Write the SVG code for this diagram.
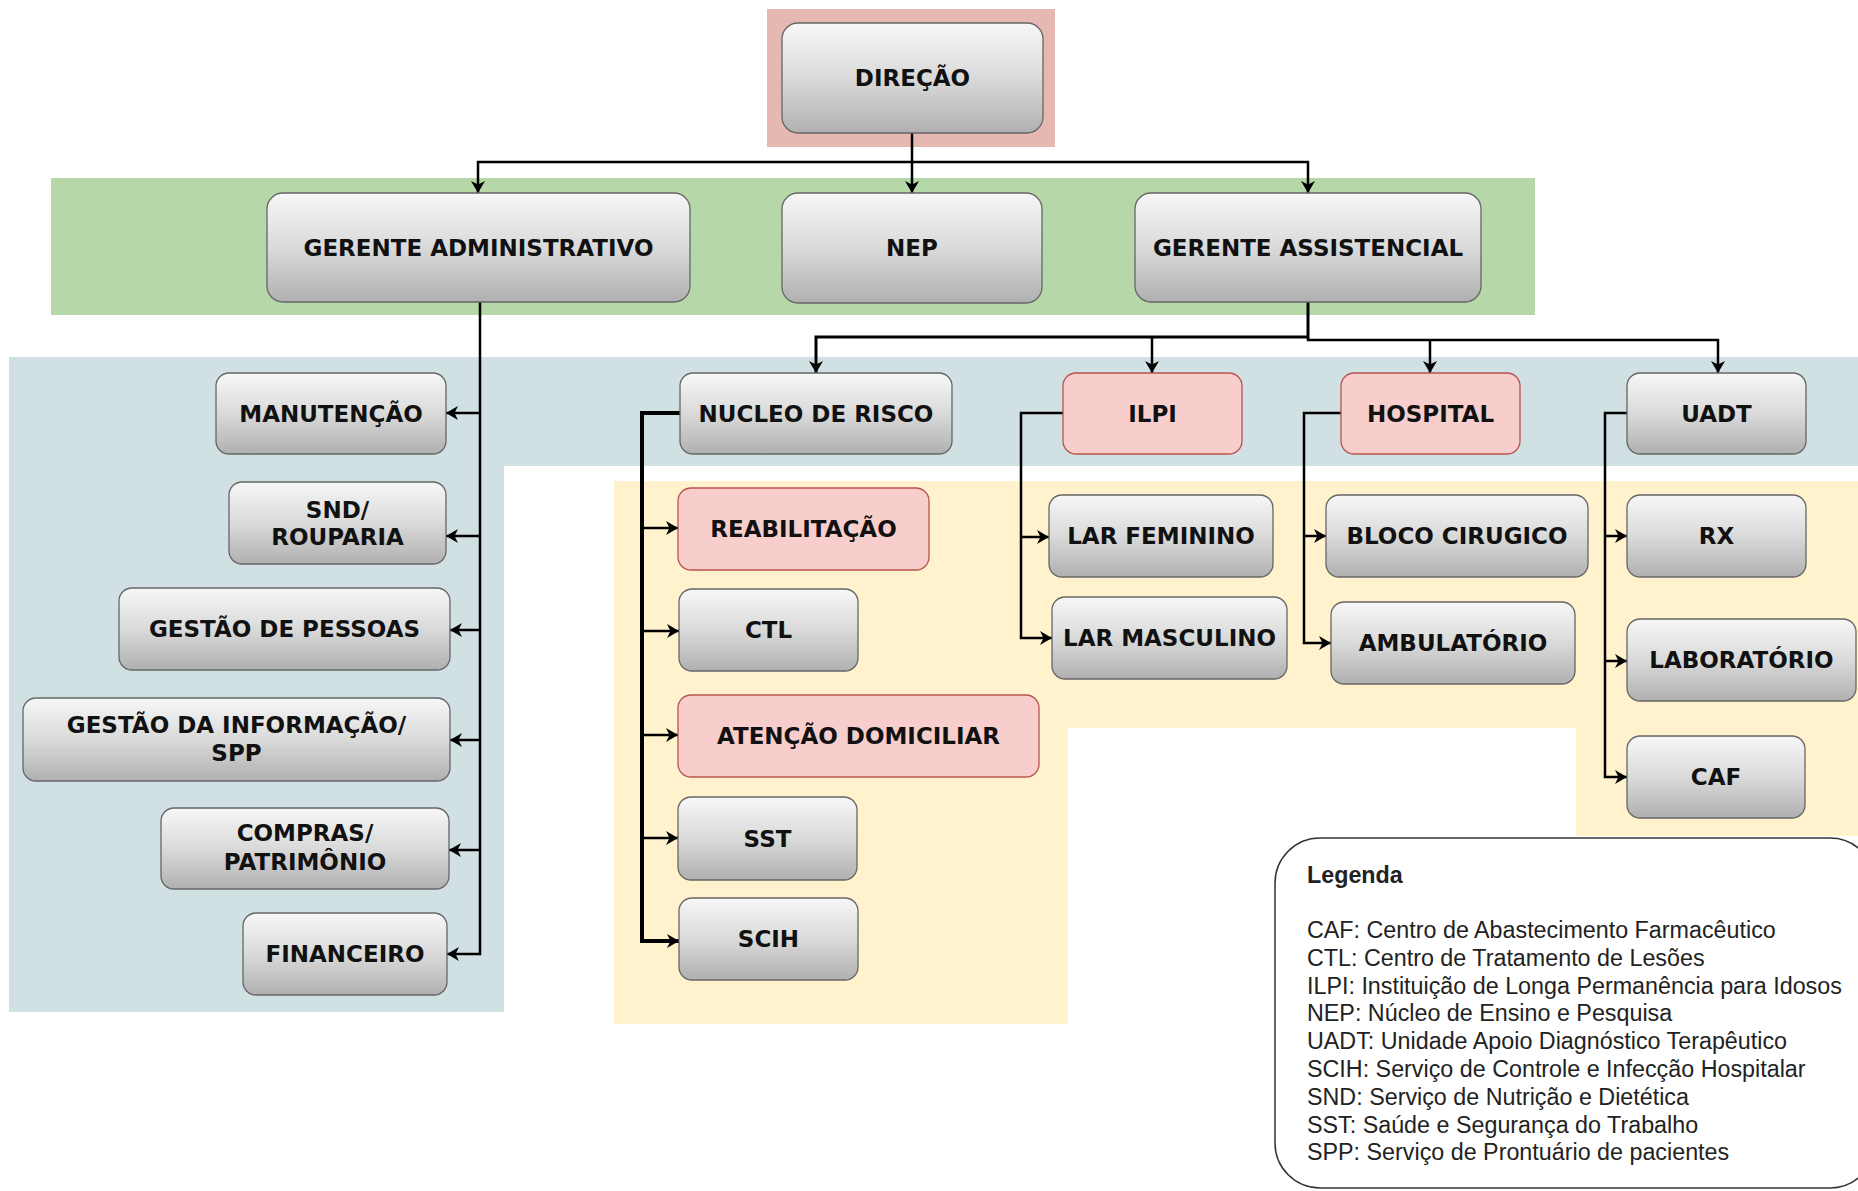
<svg xmlns="http://www.w3.org/2000/svg" width="1858" height="1191" viewBox="0 0 1858 1191">
<defs>
<linearGradient id="g" x1="0" y1="0" x2="0" y2="1">
<stop offset="0" stop-color="#f7f7f7"/>
<stop offset="0.5" stop-color="#dadada"/>
<stop offset="1" stop-color="#b0b0b0"/>
</linearGradient>
<marker id="a" viewBox="0 0 12 14" refX="12" refY="7" markerWidth="12" markerHeight="14" markerUnits="userSpaceOnUse" orient="auto">
<path d="M0,0 L12,7 L0,14 L3.5,7 z" fill="#000"/>
</marker>
<style>
.n rect{fill:url(#g);stroke:#666;stroke-width:1.3}
.p rect{fill:#f8cecc;stroke:#b85450;stroke-width:1.3}
.n text,.p text{font-family:"DejaVu Sans",Verdana,sans-serif;font-weight:bold;font-size:23px;fill:#111;text-anchor:middle}
.c path{fill:none;stroke:#000;stroke-width:2.5}
.lg text{font-family:"Liberation Sans",Arial,sans-serif;font-size:23.3px;fill:#222}
</style>
</defs>
<rect width="1858" height="1191" fill="#fff"/>
<g id="backgrounds">
<rect x="767" y="9" width="288" height="138" fill="#e6b8b2"/>
<rect x="51" y="178" width="1484" height="137" fill="#b6d7a8"/>
<path d="M9,357 H1858 V466 H504 V1012 H9 Z" fill="#d0e0e3"/>
<path d="M614,481 H1858 V836 H1576 V728 H1068 V1024 H614 Z" fill="#fff2cc"/>
</g>
<g class="c" id="connectors">
<path d="M912,133 V162 H478 V193" marker-end="url(#a)"/>
<path d="M912,162 V193" marker-end="url(#a)"/>
<path d="M912,162 H1308 V193" marker-end="url(#a)"/>
<path d="M1308,302 V337 H816 V373" marker-end="url(#a)" style="stroke-width:3"/>
<path d="M1152,337 V373" marker-end="url(#a)"/>
<path d="M1308,337 V340 H1718 V373" marker-end="url(#a)"/>
<path d="M1430,340 V373" marker-end="url(#a)"/>
<path d="M480,302 V954 H447" marker-end="url(#a)"/>
<path d="M480,413 H446" marker-end="url(#a)"/>
<path d="M480,536 H446" marker-end="url(#a)"/>
<path d="M480,630 H450" marker-end="url(#a)"/>
<path d="M480,740 H450" marker-end="url(#a)"/>
<path d="M480,850 H449" marker-end="url(#a)"/>
<path d="M680,413 H642 V941 H679" marker-end="url(#a)" style="stroke-width:4"/>
<path d="M642,528 H678" marker-end="url(#a)"/>
<path d="M642,631 H679" marker-end="url(#a)"/>
<path d="M642,735 H678" marker-end="url(#a)"/>
<path d="M642,838 H678" marker-end="url(#a)"/>
<path d="M1063,413 H1021 V638 H1052" marker-end="url(#a)"/>
<path d="M1021,537 H1049" marker-end="url(#a)"/>
<path d="M1341,413 H1304 V643 H1331" marker-end="url(#a)"/>
<path d="M1304,536 H1326" marker-end="url(#a)"/>
<path d="M1627,413 H1605 V777 H1627" marker-end="url(#a)"/>
<path d="M1605,536 H1627" marker-end="url(#a)"/>
<path d="M1605,661 H1627" marker-end="url(#a)"/>
</g>
<g id="n-direcao" class="n"><rect x="782" y="23" width="261" height="110" rx="16"/><text x="912.5" y="86">DIREÇÃO</text></g>
<g id="n-ger-adm" class="n"><rect x="267" y="193" width="423" height="109" rx="16"/><text x="478.5" y="255.5">GERENTE ADMINISTRATIVO</text></g>
<g id="n-nep" class="n"><rect x="782" y="193" width="260" height="110" rx="16"/><text x="912" y="256">NEP</text></g>
<g id="n-ger-ass" class="n"><rect x="1135" y="193" width="346" height="109" rx="16"/><text x="1308" y="255.5">GERENTE ASSISTENCIAL</text></g>
<g id="n-manutencao" class="n"><rect x="216" y="373" width="230" height="81" rx="13"/><text x="331" y="421.5">MANUTENÇÃO</text></g>
<g id="n-snd" class="n"><rect x="229" y="482" width="217" height="82" rx="13"/><text x="337.5" y="518">SND/</text><text x="337.5" y="545">ROUPARIA</text></g>
<g id="n-pessoas" class="n"><rect x="119" y="588" width="331" height="82" rx="13"/><text x="284.5" y="637">GESTÃO DE PESSOAS</text></g>
<g id="n-info" class="n"><rect x="23" y="698" width="427" height="83" rx="13"/><text x="236.5" y="733">GESTÃO DA INFORMAÇÃO/</text><text x="236.5" y="761">SPP</text></g>
<g id="n-compras" class="n"><rect x="161" y="808" width="288" height="81" rx="13"/><text x="305" y="841">COMPRAS/</text><text x="305" y="870">PATRIMÔNIO</text></g>
<g id="n-financeiro" class="n"><rect x="243" y="913" width="204" height="82" rx="13"/><text x="345" y="962">FINANCEIRO</text></g>
<g id="n-nucleo" class="n"><rect x="680" y="373" width="272" height="81" rx="13"/><text x="816" y="421.5">NUCLEO DE RISCO</text></g>
<g id="n-ilpi" class="p"><rect x="1063" y="373" width="179" height="81" rx="13"/><text x="1152.5" y="421.5">ILPI</text></g>
<g id="n-hospital" class="p"><rect x="1341" y="373" width="179" height="81" rx="13"/><text x="1430.5" y="421.5">HOSPITAL</text></g>
<g id="n-uadt" class="n"><rect x="1627" y="373" width="179" height="81" rx="13"/><text x="1716.5" y="421.5">UADT</text></g>
<g id="n-reab" class="p"><rect x="678" y="488" width="251" height="82" rx="13"/><text x="803.5" y="537">REABILITAÇÃO</text></g>
<g id="n-ctl" class="n"><rect x="679" y="589" width="179" height="82" rx="13"/><text x="768.5" y="638">CTL</text></g>
<g id="n-atencao" class="p"><rect x="678" y="695" width="361" height="82" rx="13"/><text x="858.5" y="744">ATENÇÃO DOMICILIAR</text></g>
<g id="n-sst" class="n"><rect x="678" y="797" width="179" height="83" rx="13"/><text x="767.5" y="846.5">SST</text></g>
<g id="n-scih" class="n"><rect x="679" y="898" width="179" height="82" rx="13"/><text x="768.5" y="947">SCIH</text></g>
<g id="n-larfem" class="n"><rect x="1049" y="495" width="224" height="82" rx="13"/><text x="1161" y="544">LAR FEMININO</text></g>
<g id="n-larmasc" class="n"><rect x="1052" y="597" width="235" height="82" rx="13"/><text x="1169.5" y="646">LAR MASCULINO</text></g>
<g id="n-bloco" class="n"><rect x="1326" y="495" width="262" height="82" rx="13"/><text x="1457" y="544">BLOCO CIRUGICO</text></g>
<g id="n-ambul" class="n"><rect x="1331" y="602" width="244" height="82" rx="13"/><text x="1453" y="651">AMBULATÓRIO</text></g>
<g id="n-rx" class="n"><rect x="1627" y="495" width="179" height="82" rx="13"/><text x="1716.5" y="544">RX</text></g>
<g id="n-lab" class="n"><rect x="1627" y="619" width="229" height="82" rx="13"/><text x="1741.5" y="668">LABORATÓRIO</text></g>
<g id="n-caf" class="n"><rect x="1627" y="736" width="178" height="82" rx="13"/><text x="1716" y="785">CAF</text></g>
<g id="legend" class="lg">
<rect x="1275" y="838" width="600" height="350" rx="45" fill="#fff" stroke="#333" stroke-width="1.5"/>
<text x="1307" y="883" style="font-weight:bold">Legenda</text>
<text x="1307" y="938">CAF: Centro de Abastecimento Farmacêutico</text>
<text x="1307" y="965.8">CTL: Centro de Tratamento de Lesões</text>
<text x="1307" y="993.6">ILPI: Instituição de Longa Permanência para Idosos</text>
<text x="1307" y="1021.4">NEP: Núcleo de Ensino e Pesquisa</text>
<text x="1307" y="1049.2">UADT: Unidade Apoio Diagnóstico Terapêutico</text>
<text x="1307" y="1077">SCIH: Serviço de Controle e Infecção Hospitalar</text>
<text x="1307" y="1104.8">SND: Serviço de Nutrição e Dietética</text>
<text x="1307" y="1132.6">SST: Saúde e Segurança do Trabalho</text>
<text x="1307" y="1160.4">SPP: Serviço de Prontuário de pacientes</text>
</g>
</svg>
